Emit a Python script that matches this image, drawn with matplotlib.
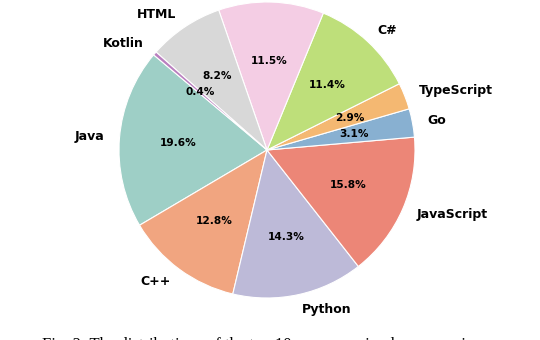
import matplotlib
matplotlib.use("Agg")
import matplotlib.pyplot as plt

# language shares (%), counterclockwise from Java
languages = ["Java", "C++", "Python", "JavaScript", "Go", "TypeScript", "C#", "", "HTML", "Kotlin"]
shares = [19.6, 12.8, 14.3, 15.8, 3.1, 2.9, 11.4, 11.5, 8.2, 0.4]
colors = ["#9ecfc6", "#f1a580", "#bdbad8", "#ec8677", "#88b0d1",
          "#f4b872", "#bedf7a", "#f4cde4", "#d8d8d8", "#b97fbf"]

caption = "Fig. 2: The distributions of the top 10 programming languages in our"

fig = plt.figure(figsize=(5.4, 3.4), dpi=100)
ax = fig.add_axes([119 / 540, 42 / 340, 296 / 540, 296 / 340])

wedges, texts, autotexts = ax.pie(
    shares, labels=languages, colors=colors, startangle=140,
    autopct="%1.1f%%", pctdistance=0.6, labeldistance=1.1,
    wedgeprops=dict(edgecolor="white", linewidth=0.8),
    textprops=dict(fontsize=9, fontweight="bold"),
)
for t in autotexts:
    t.set_fontsize(7.6)
ax.set_xlim(-1, 1)
ax.set_ylim(-1, 1)
ax.set_aspect("equal")
ax.axis("off")

# caption is cropped at the bottom edge, as in the source image
fig.text(42 / 540, -9 / 340, caption, family="Liberation Serif",
         fontsize=12, va="baseline", ha="left")

fig.savefig("out.png", dpi=100)
